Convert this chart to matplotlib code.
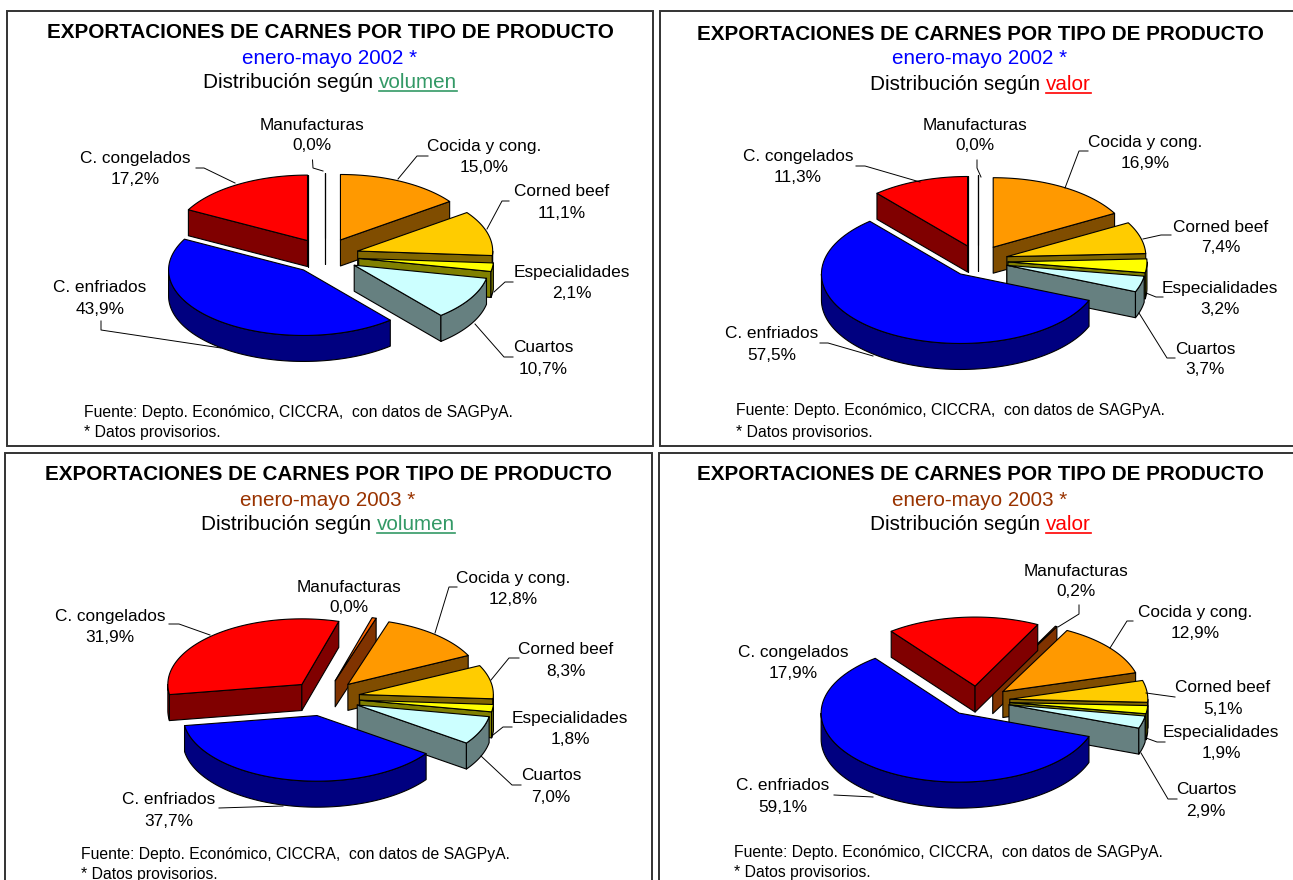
import numpy as np
import matplotlib
matplotlib.use("Agg")
import matplotlib.pyplot as plt
from matplotlib.patches import Polygon, Rectangle

plt.rcParams['font.family'] = ['Liberation Sans', 'DejaVu Sans']

W, H = 1293, 880

# order of the slices, clockwise from the first one
categories = ['Manufacturas', 'Cocida y cong.', 'Corned beef', 'Especialidades',
              'Cuartos', 'C. enfriados', 'C. congelados']

# printed percentages
volumen_2002 = [0.0, 15.0, 11.1, 2.1, 10.7, 43.9, 17.2]
valor_2002 = [0.0, 16.9, 7.4, 3.2, 3.7, 57.5, 11.3]
volumen_2003 = [0.0, 12.8, 8.3, 1.8, 7.0, 37.7, 31.9]
valor_2003 = [0.2, 12.9, 5.1, 1.9, 2.9, 59.1, 17.9]

top_colors = ['#FF6600', '#FF9900', '#FFCC00', '#FFFF00', '#CCFFFF', '#0000FF', '#FF0000']
side_colors = ['#803300', '#804D00', '#806600', '#808000', '#668080', '#000080', '#800000']

TITLE = 'EXPORTACIONES DE CARNES POR TIPO DE PRODUCTO'
FUENTE = 'Fuente: Depto. Económico, CICCRA,  con datos de SAGPyA.'
NOTA = '* Datos provisorios.'

# frame, text rows and pie geometry of every panel
panels = [
    dict(values=volumen_2002, frame=(7, 11, 653, 446), xc=330, ys=(32, 57, 82),
         date='enero-mayo 2002 *', date_color='#0000FF', word='volumen', word_color='#339966',
         foot=(84, 412, 431), c=(325, 256), R=135, k=0.485, e=34, ek=18, rot=0,
         labels=[(312, 124), (484, 145), (562, 191), (572, 272), (543, 347), (100, 287), (135, 157)],
         leaders=[[(312.5, 160), (313, 168), (323, 171)],
                  [(428, 156), (417, 156), (398, 179)],
                  [(509, 201), (502, 201), (487, 229)],
                  [(513, 282), (505, 282), (494, 292)],
                  [(513, 357), (504, 357), (475, 324)],
                  [(101, 321), (101, 330), (221, 348)],
                  [(196, 168), (204, 168), (235, 183)]]),
    dict(values=valor_2002, frame=(660, 11, 1300, 446), xc=980, ys=(34, 58, 84),
         date='enero-mayo 2002 *', date_color='#0000FF', word='valor', word_color='#FF0000',
         foot=(736, 410, 431), c=(978, 261), R=139, k=0.5, e=30, ek=16, rot=0,
         labels=[(975, 124), (1145, 141), (1221, 226), (1220, 287), (1205, 348), (772, 333), (798, 156)],
         leaders=[[(977, 160), (977, 168), (981, 177)],
                  [(1088, 151), (1079, 151), (1065, 188)],
                  [(1171, 235), (1161, 235), (1143, 239)],
                  [(1163, 297), (1156, 297), (1146, 293)],
                  [(1175, 358), (1167, 358), (1139, 313)],
                  [(820, 343), (828, 343), (873, 356)],
                  [(856, 166), (865, 166), (920, 182)]]),
    dict(values=volumen_2003, frame=(5, 453, 652, 900), xc=328, ys=(473, 499, 524),
         date='enero-mayo 2003 *', date_color='#993300', word='volumen', word_color='#339966',
         foot=(81, 854, 873), c=(325, 698), R=134, k=0.49, e=35, ek=18, rot=16,
         labels=[(349, 586), (513, 577), (566, 649), (570, 718), (551, 775), (169, 799), (110, 615)],
         leaders=[None,
                  [(457, 587), (449, 587), (435, 633)],
                  [(519, 658), (509, 658), (491, 680)],
                  [(512, 727), (503, 727), (493, 735)],
                  [(521, 785), (512, 785), (481, 756)],
                  [(219, 808), (283, 806)],
                  [(169, 624), (179, 624), (210, 635)]]),
    dict(values=valor_2003, frame=(659, 453, 1300, 900), xc=980, ys=(473, 499, 524),
         date='enero-mayo 2003 *', date_color='#993300', word='valor', word_color='#FF0000',
         foot=(734, 852, 871), c=(978, 701), R=138, k=0.5, e=32, ek=15, rot=27,
         labels=[(1076, 570), (1195, 612), (1223, 687), (1221, 731), (1206, 789), (783, 785), (793, 652)],
         leaders=[[(1079, 605), (1079, 614), (1058, 627)],
                  [(1133, 621), (1127, 621), (1110, 648)],
                  [(1175, 697), (1146, 693)],
                  [(1165, 742), (1157, 742), (1146, 738)],
                  [(1177, 799), (1168, 799), (1141, 753)],
                  [(834, 795), (873, 797)],
                  None]),
]

THICK = 26
LABEL_PT = 12.4
FOOT_PT = 11.3
TITLE_PT = 14.9
ROW_PT = 14.9

fig = plt.figure(figsize=(W / 100, H / 100), dpi=100)
ax = fig.add_axes([0, 0, 1, 1])
ax.set_xlim(0, W)
ax.set_ylim(H, 0)
ax.axis('off')


def draw_slice(p, a, b, top, side):
    """One exploded slice, a and b in degrees clockwise from twelve o'clock."""
    cx, cy = p['c']
    R, k = p['R'], p['k']
    mid = np.radians((a + b) / 2)
    ox = cx + p['e'] * np.sin(mid)
    oy = cy - p['ek'] * np.cos(mid)

    def rim(t):
        t = np.radians(t)
        return ox + R * np.sin(t), oy - R * k * np.cos(t)

    def face(pts, color):
        ax.add_patch(Polygon(pts, closed=True, facecolor=color, edgecolor='black',
                             linewidth=0.8, joinstyle='round'))

    # cut faces turned towards the viewer
    for t, visible in ((a, np.sin(np.radians(a)) < -1e-9), (b, np.sin(np.radians(b)) >= -1e-9)):
        if visible:
            x, y = rim(t)
            face([(ox, oy), (x, y), (x, y + THICK), (ox, oy + THICK)], side)

    # outer wall, only its front half
    lo, hi = max(a, 90), min(b, 270)
    if hi > lo:
        ts = np.linspace(lo, hi, 80)
        upper = [rim(t) for t in ts]
        lower = [(x, y + THICK) for x, y in reversed(upper)]
        face(upper + lower, side)

    ts = np.linspace(a, b, 80)
    face([(ox, oy)] + [rim(t) for t in ts], top)


def pct(v):
    return f'{v:.1f}%'.replace('.', ',')


renderer = fig.canvas.get_renderer()

for p in panels:
    x0, y0, x1, y1 = p['frame']
    ax.add_patch(Rectangle((x0, y0), x1 - x0, y1 - y0, facecolor='white',
                           edgecolor='#333333', linewidth=1.4))

    ax.text(p['xc'], p['ys'][0] + 1, TITLE, ha='center', va='center', fontsize=TITLE_PT, fontweight='bold')
    ax.text(p['xc'], p['ys'][1] + 1, p['date'], ha='center', va='center', fontsize=ROW_PT, color=p['date_color'])

    # black text and coloured underlined word on one centred row
    t1 = ax.text(0, p['ys'][2] + 1, 'Distribución según', va='center', fontsize=ROW_PT)
    t2 = ax.text(0, p['ys'][2] + 1, p['word'], va='center', fontsize=ROW_PT, color=p['word_color'])
    gap = 6
    w1 = t1.get_window_extent(renderer).width + gap
    w2 = t2.get_window_extent(renderer).width
    left = p['xc'] - (w1 + w2) / 2
    t1.set_x(left)
    t2.set_x(left + w1)
    ax.plot([left + w1, left + w1 + w2], [p['ys'][2] + 9.5] * 2, color=p['word_color'], lw=1.2)

    ax.text(p['foot'][0], p['foot'][1] + 1, FUENTE, va='center', fontsize=FOOT_PT)
    ax.text(p['foot'][0], p['foot'][2] + 1, NOTA, va='center', fontsize=FOOT_PT)

    # the first slice takes whatever the printed, rounded figures leave over
    shares = list(p['values'])
    shares[0] = 100 - sum(shares[1:])
    edges = p['rot'] + np.concatenate([[0], np.cumsum(shares)]) * 3.6
    for i in range(len(shares)):
        draw_slice(p, edges[i], edges[i + 1], top_colors[i], side_colors[i])

    for name, v, (lx, ly), lead in zip(categories, p['values'], p['labels'], p['leaders']):
        ax.text(lx, ly + 1, name, ha='center', va='center', fontsize=LABEL_PT)
        ax.text(lx, ly + 22, pct(v), ha='center', va='center', fontsize=LABEL_PT)
        if lead:
            ax.plot(*zip(*lead), color='black', lw=0.7)

fig.savefig('out.png', dpi=100)
